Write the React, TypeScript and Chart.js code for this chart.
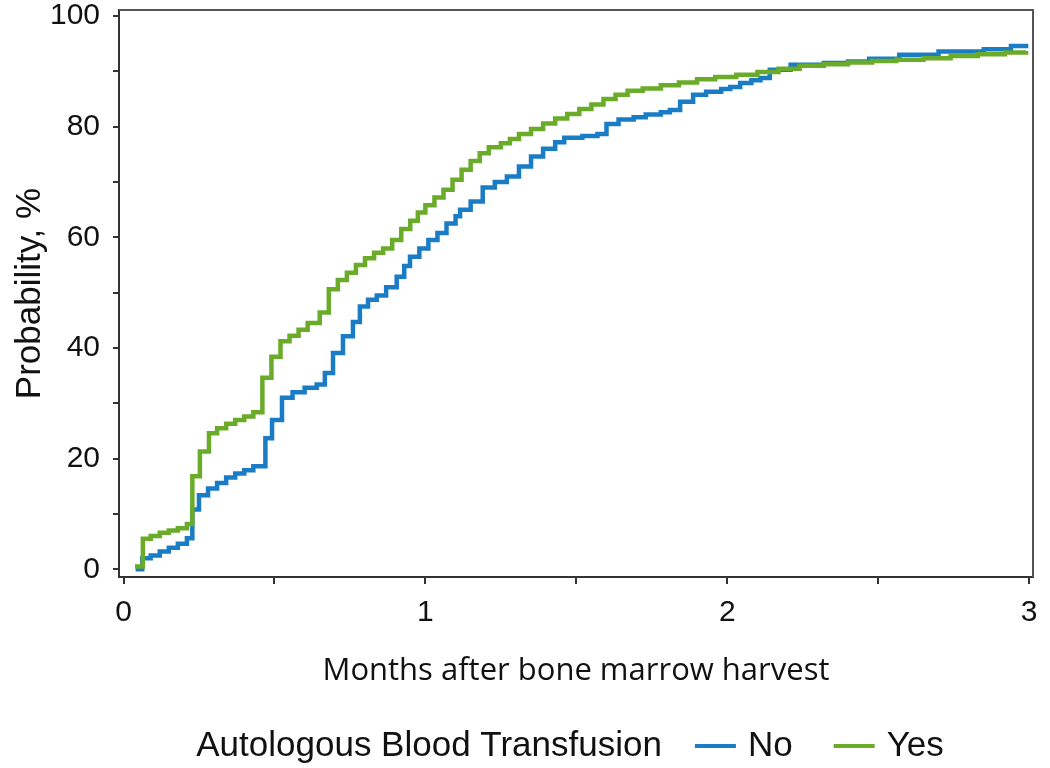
import React, { useEffect, useRef } from "react";
import { Chart, registerables } from "chart.js";

Chart.register(...registerables);

// ---- Data ----
const seriesNames = ["No", "Yes"];
const legendTitle = "Autologous Blood Transfusion";
const xTitle = "Months after bone marrow harvest";
const yTitle = "Probability, %";

const xLabeledTicks = [0, 1, 2, 3];
const yLabeledTicks = [0, 20, 40, 60, 80, 100];

const noMonths = [
  0.04, 0.062, 0.09, 0.12, 0.15, 0.18, 0.21, 0.228, 0.25, 0.28, 0.31, 0.34, 0.37, 0.4, 0.43,
  0.47, 0.492, 0.525, 0.56, 0.6, 0.64, 0.667, 0.694, 0.727, 0.76, 0.783, 0.81, 0.839, 0.87,
  0.905, 0.93, 0.949, 0.98, 1.01, 1.04, 1.07, 1.1, 1.115, 1.15, 1.19, 1.23, 1.27, 1.31, 1.35,
  1.39, 1.43, 1.46, 1.52, 1.57, 1.6, 1.64, 1.69, 1.73, 1.78, 1.81, 1.844, 1.887, 1.93, 1.98,
  2.01, 2.043, 2.08, 2.11, 2.141, 2.21, 2.32, 2.4, 2.47, 2.57, 2.7, 2.85, 2.94, 2.99,
];
const noProb = [
  0.0, 2.0, 2.5, 3.2, 3.9, 4.6, 5.6, 10.8, 13.4, 14.6, 15.6, 16.6, 17.3, 17.9, 18.6,
  23.7, 27.0, 31.0, 32.0, 32.8, 33.4, 35.5, 39.1, 42.1, 44.7, 47.5, 48.7, 49.5, 51.0,
  52.9, 54.8, 56.5, 58.0, 59.5, 60.8, 62.5, 63.8, 65.0, 66.5, 69.0, 70.0, 71.0, 72.8, 74.6,
  76.0, 77.2, 78.0, 78.3, 78.7, 80.5, 81.3, 81.7, 82.2, 82.6, 83.0, 84.5, 85.8, 86.3, 86.8,
  87.2, 87.9, 88.4, 88.8, 90.3, 91.2, 91.5, 91.8, 92.3, 93.0, 93.6, 94.0, 94.6, 95.0,
];

const yesMonths = [
  0.038, 0.064, 0.09, 0.12, 0.15, 0.18, 0.21, 0.228, 0.253, 0.283, 0.31, 0.34, 0.37, 0.4, 0.43,
  0.46, 0.49, 0.52, 0.55, 0.58, 0.61, 0.65, 0.68, 0.71, 0.74, 0.77, 0.8, 0.83, 0.86, 0.89,
  0.92, 0.95, 0.975, 1.0, 1.03, 1.06, 1.09, 1.12, 1.15, 1.18, 1.21, 1.25, 1.28, 1.31, 1.35,
  1.39, 1.43, 1.47, 1.51, 1.55, 1.59, 1.63, 1.67, 1.72, 1.78, 1.84, 1.9, 1.96, 2.03, 2.1,
  2.17, 2.24, 2.32, 2.4, 2.48, 2.56, 2.65, 2.74, 2.83, 2.92, 2.99,
];
const yesProb = [
  0.5, 5.5, 6.0, 6.6, 7.0, 7.4, 8.2, 16.8, 21.3, 24.6, 25.5, 26.3, 27.0, 27.6, 28.4,
  34.6, 38.4, 41.2, 42.2, 43.3, 44.5, 46.4, 50.6, 52.3, 53.6, 55.0, 56.2, 57.2, 58.0, 59.5,
  61.5, 63.0, 64.5, 65.8, 67.2, 68.6, 70.4, 72.2, 73.8, 75.2, 76.3, 77.0, 77.8, 78.7, 79.6,
  80.6, 81.5, 82.3, 83.2, 84.0, 85.0, 85.8, 86.5, 86.9, 87.5, 88.0, 88.6, 89.0, 89.4, 89.9,
  90.5, 91.0, 91.3, 91.6, 91.9, 92.1, 92.4, 92.8, 93.1, 93.4, 93.7,
];

const blue = "#1b7cc6";
const green = "#6aac2a";
const axisColor = "#333333";

const TICK_FONT = { family: "'Liberation Sans', Arial, sans-serif", size: 30 };

const framePlugin = {
  id: "frame",
  afterDatasetsDraw(chart: any) {
    const { ctx, chartArea } = chart;
    ctx.save();
    ctx.strokeStyle = "#555555";
    ctx.lineWidth = 2;
    ctx.beginPath();
    ctx.moveTo(chartArea.left, chartArea.top);
    ctx.lineTo(chartArea.right, chartArea.top);
    ctx.lineTo(chartArea.right, chartArea.bottom);
    ctx.stroke();
    ctx.restore();
  },
};

const legendPlugin = {
  id: "customLegend",
  afterDraw(chart: any) {
    const { ctx } = chart;
    const font = "35px 'Liberation Sans', Arial, sans-serif";
    ctx.save();
    ctx.font = font;
    ctx.textBaseline = "middle";
    ctx.fillStyle = "#111111";
    const lineLen = 41;
    const gapAfterTitle = 33;
    const gapLineText = 12;
    const gapBetween = 41;
    const items = chart.data.datasets.map((d: any) => ({
      label: d.label,
      color: d.borderColor,
    }));
    const titleW = ctx.measureText(legendTitle).width;
    let total = titleW;
    items.forEach((it: any, i: number) => {
      total += (i === 0 ? gapAfterTitle : gapBetween) + lineLen + gapLineText + ctx.measureText(it.label).width;
    });
    const y = 746;
    let x = 570 - total / 2;
    ctx.textAlign = "left";
    ctx.fillText(legendTitle, x, y);
    x += titleW;
    items.forEach((it: any, i: number) => {
      x += i === 0 ? gapAfterTitle : gapBetween;
      ctx.strokeStyle = it.color;
      ctx.lineWidth = 4;
      ctx.beginPath();
      ctx.moveTo(x, y);
      ctx.lineTo(x + lineLen, y);
      ctx.stroke();
      x += lineLen + gapLineText;
      ctx.fillText(it.label, x, y);
      x += ctx.measureText(it.label).width;
    });
    ctx.restore();
  },
};

export default function App() {
  const canvasRef = useRef<HTMLCanvasElement | null>(null);

  useEffect(() => {
    if (!canvasRef.current) return;
    const toPoints = (xs: number[], ys: number[]) => xs.map((x, i) => ({ x, y: ys[i] }));
    const chart = new Chart(canvasRef.current, {
      type: "line",
      data: {
        datasets: [
          {
            label: seriesNames[0],
            data: toPoints(noMonths, noProb),
            borderColor: blue,
            backgroundColor: blue,
            borderWidth: 4.5,
            stepped: "before",
            pointRadius: 0,
            fill: false,
            order: 2,
          },
          {
            label: seriesNames[1],
            data: toPoints(yesMonths, yesProb),
            borderColor: green,
            backgroundColor: green,
            borderWidth: 4.5,
            stepped: "before",
            pointRadius: 0,
            fill: false,
            order: 1,
          },
        ],
      },
      options: {
        animation: false,
        responsive: true,
        maintainAspectRatio: false,
        layout: { padding: { left: 0, right: 17, top: 10, bottom: 68 } },
        plugins: {
          legend: { display: false },
          tooltip: { enabled: false },
        },
        scales: {
          x: {
            type: "linear",
            min: -0.015,
            max: 3.013,
            border: { display: true, color: axisColor, width: 2 },
            grid: {
              display: true,
              drawOnChartArea: false,
              drawTicks: true,
              tickLength: 7,
              color: axisColor,
              lineWidth: 2,
            },
            ticks: {
              stepSize: 0.5,
              includeBounds: false,
              autoSkip: false,
              maxRotation: 0,
              padding: 11,
              color: "#111111",
              font: TICK_FONT,
              callback: (v: any) => (xLabeledTicks.includes(Number(v)) ? String(v) : ""),
            },
            title: {
              display: true,
              text: xTitle,
              color: "#111111",
              font: { family: "'Open Sans', sans-serif", size: 31 },
              padding: { top: 0, bottom: 10 },
            },
            afterFit: (scale: any) => {
              scale.height = 123;
              scale.paddingLeft = 0;
              scale.paddingRight = 0;
            },
          },
          y: {
            type: "linear",
            min: -1.4,
            max: 101.1,
            border: { display: true, color: axisColor, width: 2 },
            grid: {
              display: true,
              drawOnChartArea: false,
              drawTicks: true,
              tickLength: 6,
              color: axisColor,
              lineWidth: 2,
            },
            ticks: {
              stepSize: 10,
              includeBounds: false,
              autoSkip: false,
              padding: 13,
              color: "#111111",
              font: TICK_FONT,
              callback: (v: any) => (yLabeledTicks.includes(Number(v)) ? String(v) : ""),
            },
            title: {
              display: true,
              text: yTitle,
              color: "#111111",
              font: { family: "'Liberation Sans', Arial, sans-serif", size: 35 },
              padding: { top: 9, bottom: 0 },
            },
            afterFit: (scale: any) => {
              scale.width = 119;
              scale.paddingTop = 0;
              scale.paddingBottom = 0;
            },
          },
        },
      },
      plugins: [framePlugin, legendPlugin],
    });
    return () => chart.destroy();
  }, []);

  return (
    <div
      style={{
        position: "fixed",
        left: 0,
        top: 0,
        width: 1050,
        height: 768,
        background: "#ffffff",
      }}
    >
      <canvas ref={canvasRef} />
    </div>
  );
}
